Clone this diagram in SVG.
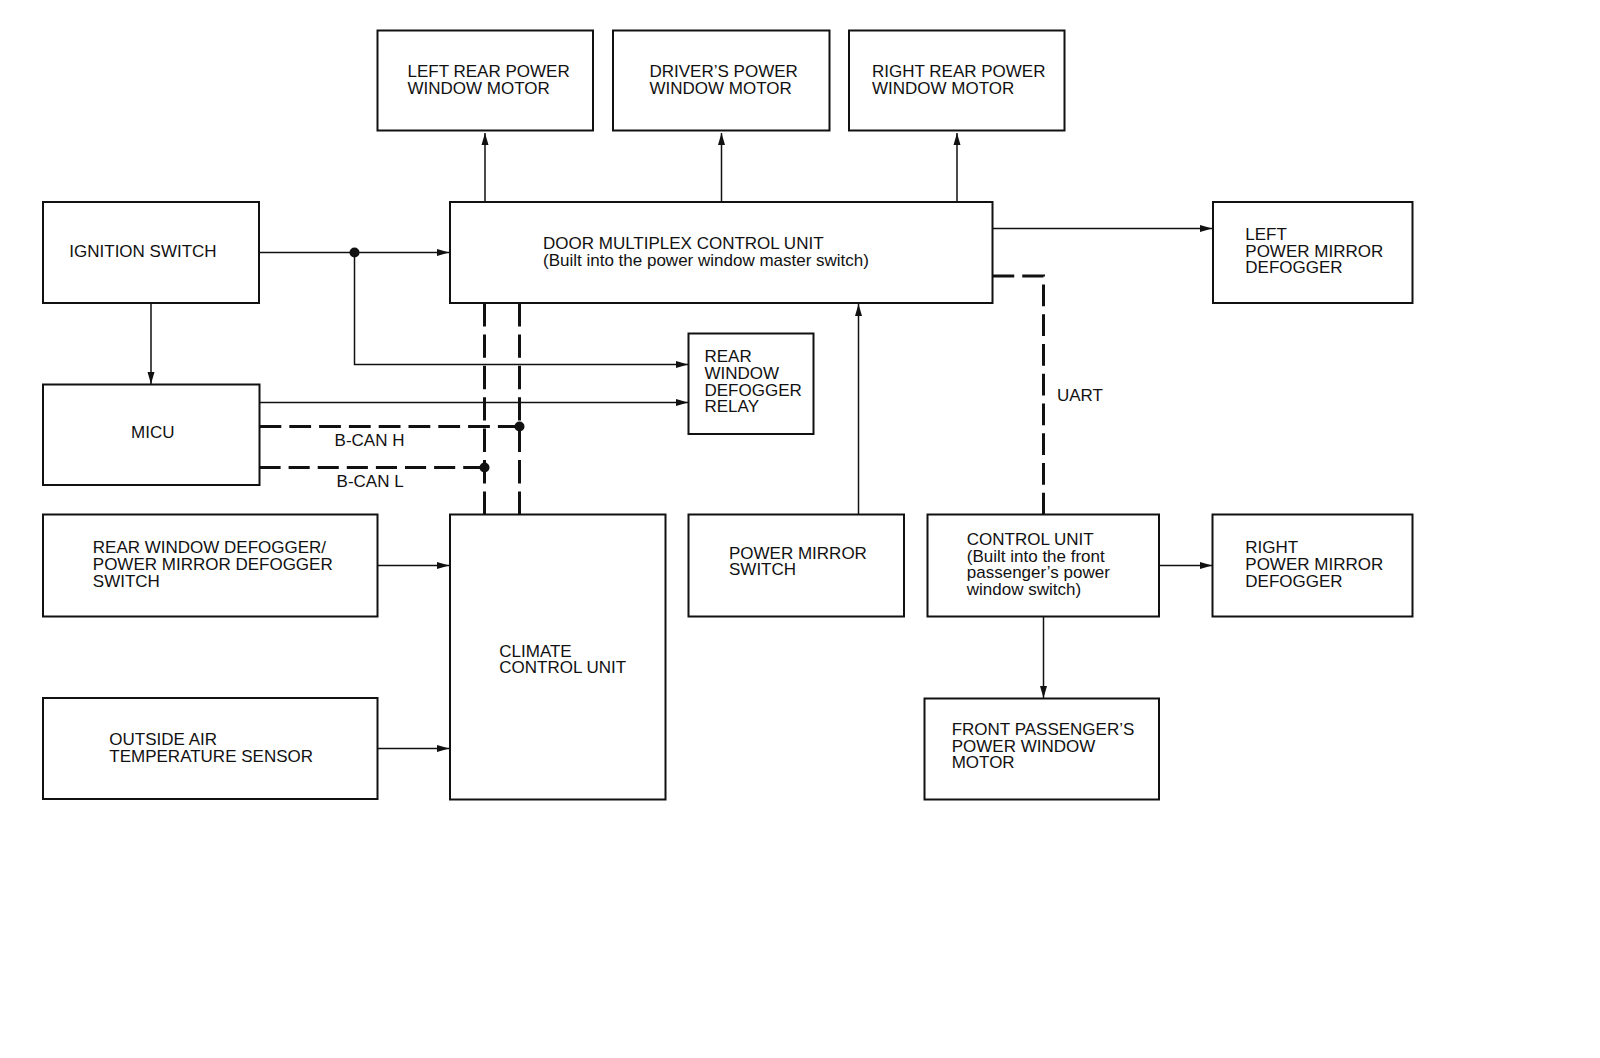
<svg xmlns="http://www.w3.org/2000/svg" width="1600" height="1058" viewBox="0 0 1600 1058">
<style>
.box{fill:#fff;stroke:#111;stroke-width:2}
.t{font-family:"Liberation Sans",Arial,sans-serif;font-size:17px;fill:#111}
.w{fill:none;stroke:#111;stroke-width:1.5}
.d{fill:none;stroke:#111;stroke-width:3;stroke-dasharray:22 8}
.dot{fill:#111}
</style>
<defs>
<marker id="ah" markerUnits="userSpaceOnUse" markerWidth="12" markerHeight="8" refX="12" refY="4" orient="auto">
<path d="M0,0.5 L12,4 L0,7.5 z" fill="#111"/>
</marker>
</defs>
<rect width="1600" height="1058" fill="#fff"/>
<g id="connectors">
<path class="w" d="M259,252.5 H449" marker-end="url(#ah)"/>
<path class="w" d="M354.5,252.5 V364.5 H688" marker-end="url(#ah)"/>
<path class="w" d="M151,303 V384" marker-end="url(#ah)"/>
<path class="w" d="M259.5,402.5 H688" marker-end="url(#ah)"/>
<path class="d" style="stroke-dasharray:21.8 8" d="M259.5,426.5 H519.5"/>
<path class="d" style="stroke-dasharray:21.1 8" d="M259.5,467.5 H484.5"/>
<path class="d" style="stroke-dasharray:23.4 8" d="M484.5,303 V514.5"/>
<path class="d" style="stroke-dasharray:23.4 8" d="M519.5,303 V514.5"/>
<circle class="dot" cx="354.5" cy="252.5" r="5"/>
<circle class="dot" cx="519.5" cy="426.5" r="5"/>
<circle class="dot" cx="484.5" cy="467.5" r="5"/>
<path class="w" d="M485,202 V133" marker-end="url(#ah)"/>
<path class="w" d="M721.5,202 V133" marker-end="url(#ah)"/>
<path class="w" d="M957,202 V133" marker-end="url(#ah)"/>
<path class="w" d="M992.5,228.5 H1212" marker-end="url(#ah)"/>
<path class="d" style="stroke-dasharray:21.75 8" d="M992.5,276 H1043.5 V514.5"/>
<path class="w" d="M858.5,514.5 V304" marker-end="url(#ah)"/>
<path class="w" d="M377.5,565.5 H449" marker-end="url(#ah)"/>
<path class="w" d="M377.5,748.5 H449" marker-end="url(#ah)"/>
<path class="w" d="M1159,565.5 H1212" marker-end="url(#ah)"/>
<path class="w" d="M1043.5,616.5 V698" marker-end="url(#ah)"/>
</g>
<g id="lrpwm"><rect class="box" x="377.5" y="30.5" width="215.5" height="100"/><text class="t" x="407.5" y="77.3">LEFT REAR POWER</text><text class="t" x="407.5" y="94">WINDOW MOTOR</text></g>
<g id="dpwm"><rect class="box" x="613" y="30.5" width="216.5" height="100"/><text class="t" x="649.5" y="77.3">DRIVER’S POWER</text><text class="t" x="649.5" y="94">WINDOW MOTOR</text></g>
<g id="rrpwm"><rect class="box" x="849" y="30.5" width="215.5" height="100"/><text class="t" x="872" y="77.3">RIGHT REAR POWER</text><text class="t" x="872" y="94">WINDOW MOTOR</text></g>
<g id="ign"><rect class="box" x="43" y="202" width="216" height="101"/><text class="t" x="69.3" y="257.3">IGNITION SWITCH</text></g>
<g id="dmcu"><rect class="box" x="450" y="202" width="542.5" height="101"/><text class="t" x="543" y="249.3">DOOR MULTIPLEX CONTROL UNIT</text><text class="t" x="543" y="266">(Built into the power window master switch)</text></g>
<g id="lpmd"><rect class="box" x="1213" y="202" width="199.5" height="101"/><text class="t" x="1245.3" y="240">LEFT</text><text class="t" x="1245.3" y="256.7">POWER MIRROR</text><text class="t" x="1245.3" y="273.3">DEFOGGER</text></g>
<g id="relay"><rect class="box" x="688.5" y="333.5" width="125" height="100.5"/><text class="t" x="704.5" y="362.3">REAR</text><text class="t" x="704.5" y="379">WINDOW</text><text class="t" x="704.5" y="395.7">DEFOGGER</text><text class="t" x="704.5" y="412.4">RELAY</text></g>
<g id="micu"><rect class="box" x="43" y="384.5" width="216.5" height="100.5"/><text class="t" x="131" y="438">MICU</text></g>
<g id="labels"><text class="t" x="334.6" y="446">B-CAN H</text><text class="t" x="336.6" y="487.3">B-CAN L</text><text class="t" x="1057" y="400.7">UART</text></g>
<g id="rwds"><rect class="box" x="43" y="514.5" width="334.5" height="102"/><text class="t" x="92.8" y="553.3">REAR WINDOW DEFOGGER/</text><text class="t" x="92.8" y="570">POWER MIRROR DEFOGGER</text><text class="t" x="92.8" y="586.7">SWITCH</text></g>
<g id="ccu"><rect class="box" x="450" y="514.5" width="215.5" height="285"/><text class="t" x="499.3" y="656.7">CLIMATE</text><text class="t" x="499.3" y="673.3">CONTROL UNIT</text></g>
<g id="pms"><rect class="box" x="688.5" y="514.5" width="215.5" height="102"/><text class="t" x="729" y="558.7">POWER MIRROR</text><text class="t" x="729" y="575.3">SWITCH</text></g>
<g id="cu"><rect class="box" x="927.5" y="514.5" width="231.5" height="102"/><text class="t" x="966.8" y="545">CONTROL UNIT</text><text class="t" x="966.8" y="561.7">(Built into the front</text><text class="t" x="966.8" y="578.4">passenger’s power</text><text class="t" x="966.8" y="595.1">window switch)</text></g>
<g id="rpmd"><rect class="box" x="1212.5" y="514.5" width="200" height="102"/><text class="t" x="1245.3" y="553.3">RIGHT</text><text class="t" x="1245.3" y="570">POWER MIRROR</text><text class="t" x="1245.3" y="586.7">DEFOGGER</text></g>
<g id="oats"><rect class="box" x="43" y="698" width="334.5" height="101"/><text class="t" x="109.3" y="745">OUTSIDE AIR</text><text class="t" x="109.3" y="761.7">TEMPERATURE SENSOR</text></g>
<g id="fppwm"><rect class="box" x="924.5" y="698.5" width="234.5" height="101"/><text class="t" x="951.7" y="735">FRONT PASSENGER’S</text><text class="t" x="951.7" y="751.7">POWER WINDOW</text><text class="t" x="951.7" y="768.4">MOTOR</text></g>
</svg>
